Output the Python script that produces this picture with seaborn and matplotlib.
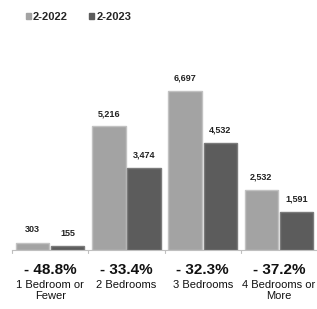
import pandas as pd
import matplotlib
matplotlib.use("Agg")
import matplotlib.pyplot as plt
import seaborn as sns
from matplotlib.patches import Patch

categories = ["1 Bedroom or\nFewer", "2 Bedrooms", "3 Bedrooms", "4 Bedrooms or\nMore"]
vals_2022 = [303, 5216, 6697, 2532]
vals_2023 = [155, 3474, 4532, 1591]
changes = ["- 48.8%", "- 33.4%", "- 32.3%", "- 37.2%"]
series = ["2-2022", "2-2023"]
colors = ["#a3a3a3", "#5c5c5c"]

df = pd.DataFrame({
    "cat": categories * 2,
    "val": vals_2022 + vals_2023,
    "period": [series[0]] * 4 + [series[1]] * 4,
})

sns.set_style("white")
plt.rcParams["font.family"] = ["Liberation Sans", "DejaVu Sans"]

fig = plt.figure(figsize=(3.17, 3.09), dpi=100)
ax = fig.add_axes([0.038, 0.191, 0.962, 0.585])
sns.barplot(data=df, x="cat", y="val", hue="period", palette=colors,
            width=0.92, gap=0.05, ax=ax, legend=False)

for bar in ax.patches:
    fc = bar.get_facecolor()
    bar.set_edgecolor((min(fc[0] + 0.12, 1), min(fc[1] + 0.12, 1), min(fc[2] + 0.12, 1)))
    bar.set_linewidth(1.0)

for cont in ax.containers:
    ax.bar_label(cont, labels=[f"{v:,.0f}" for v in cont.datavalues],
                 padding=6, fontsize=6.5, fontweight="bold", color="#222222")

ax.set_ylim(0, 7630)
ax.set_xlim(-0.5, 3.5)
ax.set_xlabel("")
ax.set_ylabel("")
ax.set_yticks([])
ax.set_xticks([])
for s in ["top", "right", "left"]:
    ax.spines[s].set_visible(False)
ax.spines["bottom"].set_color("#bfbfbf")
ax.spines["bottom"].set_linewidth(0.8)

# boundary ticks
for b in [-0.5, 0.5, 1.5, 2.5]:
    ax.plot([b, b], [0, -120], color="#bfbfbf", lw=0.8, clip_on=False)

for i, (c, ch) in enumerate(zip(categories, changes)):
    ax.text(i, -860, ch, ha="center", va="center", fontsize=11,
            fontweight="bold", color="#111111")
    ax.text(i, -1270, c, ha="center", va="top", fontsize=8,
            color="#111111", linespacing=1.15)

handles = [Patch(facecolor=col, edgecolor=col) for col in colors]
fig.legend(handles, series, loc="upper left", bbox_to_anchor=(0.05, 0.995),
           ncol=2, frameon=False, handlelength=0.45,
           handleheight=0.45, handletextpad=0.2, columnspacing=1.9,
           prop={"weight": "bold", "size": 8})

fig.savefig("out.png", dpi=100)
